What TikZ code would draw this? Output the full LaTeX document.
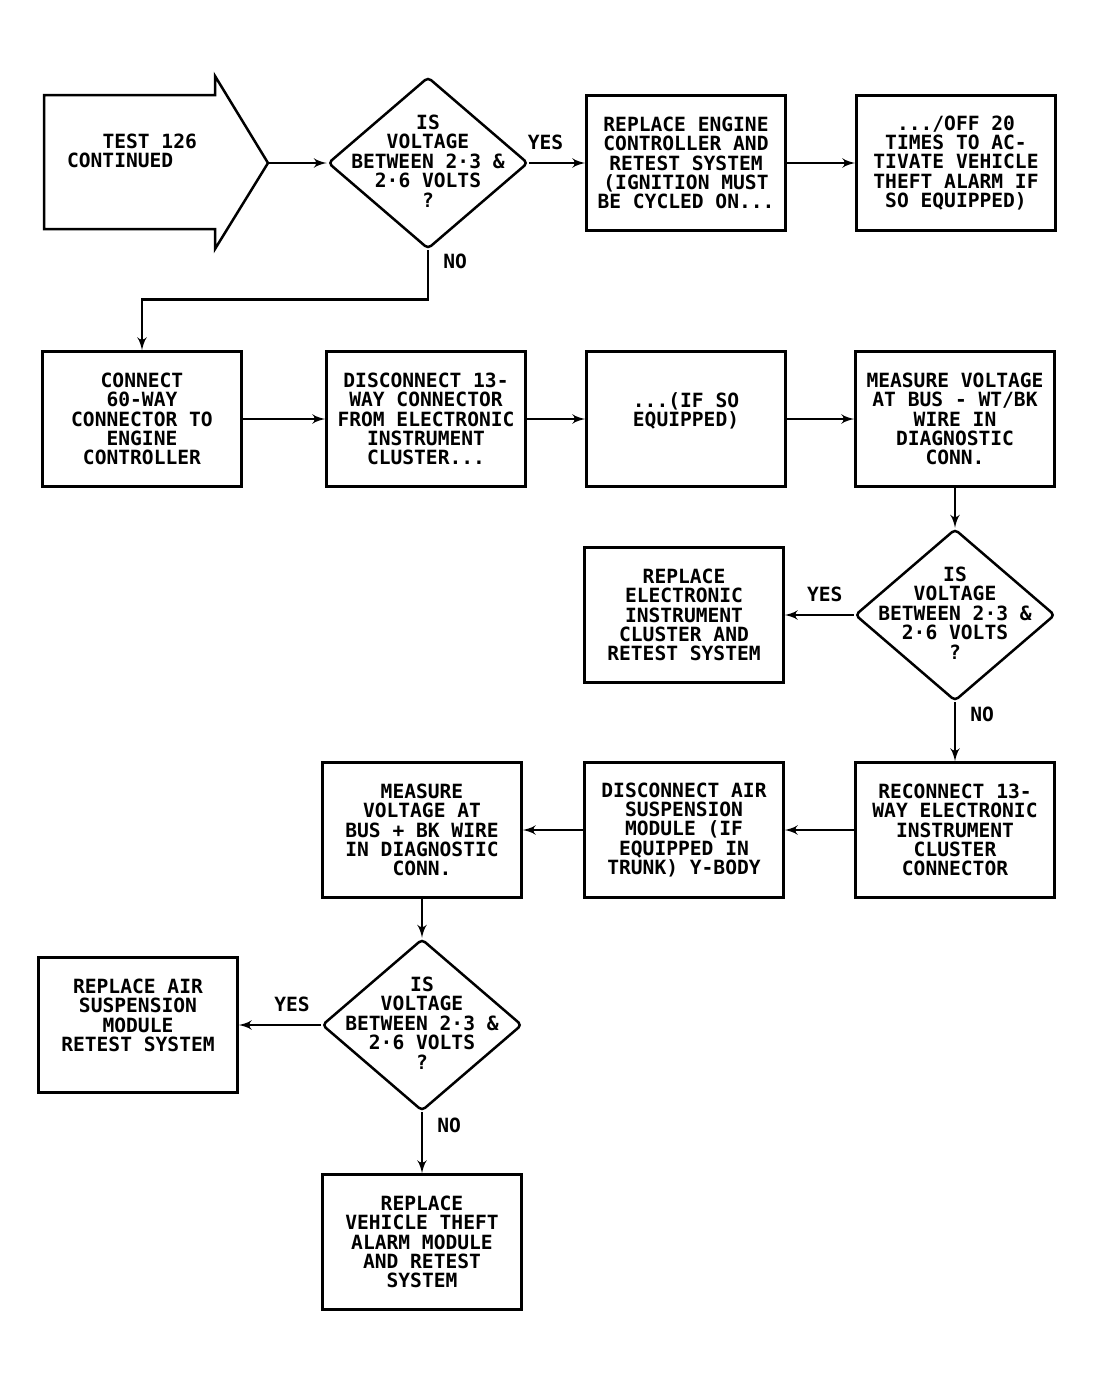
\documentclass[tikz,border=0pt]{standalone}
\usepackage{fontspec}
\setmainfont{DejaVu Sans Mono}
\usetikzlibrary{arrows,shapes.geometric,calc}
\tikzset{
>=latex',
  process/.style={
    rectangle,
    draw=black, line width=1.25pt,
    minimum width=99.5pt,
    minimum height=67.5pt,
    inner sep=0pt,
    align=center},
  decision/.style={
    diamond,
    rounded corners=2pt,
    draw=black, line width=1.25pt,
    minimum width=100pt,
    minimum height=86pt,
    inner sep=0pt},
  qtext/.style={align=center, inner sep=0pt},
  line/.style={draw, line width=1.25pt, ->},
  answer/.style={inner sep=1pt},
}

\begin{document}
\begin{tikzpicture}[x=0.5pt,y=-0.5pt,
	font=\fontsize{9.8}{9.7}\selectfont\bfseries]
	\useasboundingbox (0,0) rectangle (1095,1387);

	% entry arrow
	\draw[line width=1.25pt] (44,95) -- (215,95) -- (215,76) -- (268,163)
		-- (215,249) -- (215,229) -- (44,229) -- cycle;
	\coordinate (tip) at (268,163);
	\node[align=left] (start) at (132,151) {\hphantom{MMM}TEST 126\\CONTINUED};

	% first row
	\node[decision] (d1) at (428,163) {};
	\node[qtext] (d1t) at (428,161) {IS\\VOLTAGE\\BETWEEN 2·3 \&\\2·6 VOLTS\\?};
	\node[process] (b2) at (686,163) {REPLACE ENGINE\\CONTROLLER AND\\RETEST SYSTEM\\(IGNITION MUST\\BE CYCLED ON...};
	\node[process] (b3) at (956,163) {.../OFF 20\\TIMES TO AC-\\TIVATE VEHICLE\\THEFT ALARM IF\\SO EQUIPPED)};

	% second row
	\node[process] (b4) at (142,419) {CONNECT\\60-WAY\\CONNECTOR TO\\ENGINE\\CONTROLLER};
	\node[process] (b5) at (426,419) {DISCONNECT 13-\\WAY CONNECTOR\\FROM ELECTRONIC\\INSTRUMENT\\CLUSTER...};
	\node[process] (b6) at (686,419) {...(IF SO\\EQUIPPED)\\ \mbox{}};
	\node[process] (b7) at (955,419) {MEASURE VOLTAGE\\AT BUS - WT/BK\\WIRE IN\\DIAGNOSTIC\\CONN.};

	\node[decision] (d2) at (955,615) {};
	\node[qtext] (d2t) at (955,613) {IS\\VOLTAGE\\BETWEEN 2·3 \&\\2·6 VOLTS\\?};
	\node[process] (b8) at (684,615) {REPLACE\\ELECTRONIC\\INSTRUMENT\\CLUSTER AND\\RETEST SYSTEM};

	% third row
	\node[process] (b9) at (955,830) {RECONNECT 13-\\WAY ELECTRONIC\\INSTRUMENT\\CLUSTER\\CONNECTOR};
	\node[process] (b10) at (684,830) {DISCONNECT AIR\\SUSPENSION\\MODULE (IF\\EQUIPPED IN\\TRUNK) Y-BODY};
	\node[process] (b11) at (422,830) {MEASURE\\VOLTAGE AT\\BUS + BK WIRE\\IN DIAGNOSTIC\\CONN.};

	\node[decision] (d3) at (422,1025) {};
	\node[qtext] (d3t) at (422,1023) {IS\\VOLTAGE\\BETWEEN 2·3 \&\\2·6 VOLTS\\?};
	\node[process] (b12) at (138,1025) {REPLACE AIR\\SUSPENSION\\MODULE\\RETEST SYSTEM\\ \mbox{}};
	\node[process] (b13) at (422,1242) {REPLACE\\VEHICLE THEFT\\ALARM MODULE\\AND RETEST\\SYSTEM};

	% connectors
	\draw[line] (tip) -- (d1);
	\draw[line] (d1) -- node[answer, above=5pt, pos=.29] (yes1) {YES} (b2);
	\draw[line] (b2) -- (b3);
	\draw[line] (d1.south) -- node[answer, right=6pt, pos=.22] (no1) {NO} ++(0,49) -| (b4.north);
	\draw[line] (b4) -- (b5);
	\draw[line] (b5) -- (b6);
	\draw[line] (b6) -- (b7);
	\draw[line] (b7) -- (d2);
	\draw[line] (d2) -- node[answer, above=5pt, pos=.42] (yes2) {YES} (b8);
	\draw[line] (d2) -- node[answer, right=6pt, pos=.2] (no2) {NO} (b9);
	\draw[line] (b9) -- (b10);
	\draw[line] (b10) -- (b11);
	\draw[line] (b11) -- (d3);
	\draw[line] (d3) -- node[answer, above=5pt, pos=.35] (yes3) {YES} (b12);
	\draw[line] (d3) -- node[answer, right=6pt, pos=.22] (no3) {NO} (b13);
\end{tikzpicture}
\end{document}
